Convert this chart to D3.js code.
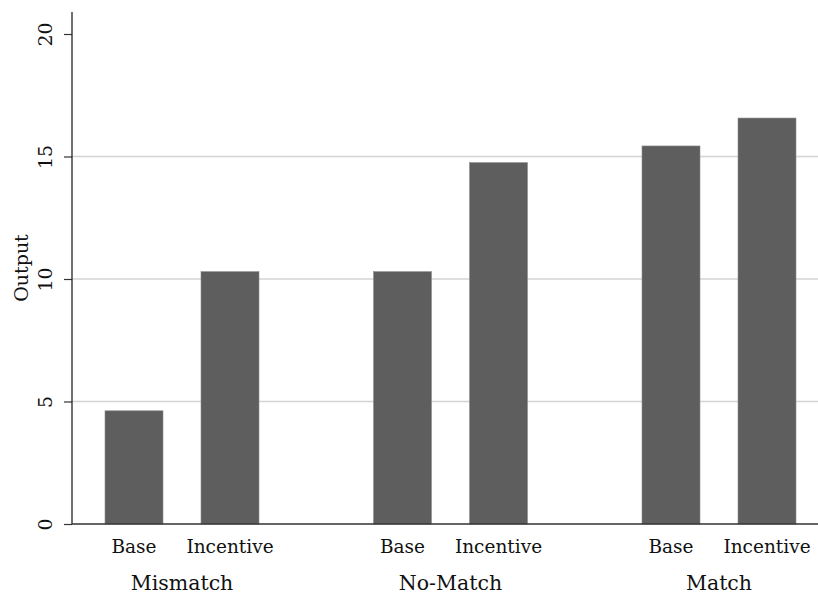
<!DOCTYPE html>
<html><head><meta charset="utf-8">
<script src="https://cdn.jsdelivr.net/npm/d3@7"></script>
<style>body{margin:0;background:#fff}svg{display:block}text{font-family:"DejaVu Serif",serif;fill:#111}</style>
</head><body><svg id="c" width="818" height="597"></svg>
<script>
const groups = ["Mismatch", "No-Match", "Match"];
const conditions = ["Base", "Incentive"];
const baseValues = [4.62, 10.3, 15.43];
const incentiveValues = [10.3, 14.75, 16.57];
const yTicks = [0, 5, 10, 15, 20];
const yLabel = "Output";

const data = [];
groups.forEach((g, i) => {
  data.push({group: g, cond: "Base", value: baseValues[i]});
  data.push({group: g, cond: "Incentive", value: incentiveValues[i]});
});

const svg = d3.select("#c");
const x0 = 72, xEnd = 818, yBase = 524, yTop = 12;
const y = d3.scaleLinear().domain([0, 20]).range([yBase, 34]);
const gx = d3.scalePoint().domain(groups).range([182, 719]);
const bx = d3.scaleBand().domain(conditions).range([-77, 77]).paddingInner(38/96).paddingOuter(0);

// gridlines
svg.append("g").selectAll("line").data(yTicks.filter(t => t > 0 && t < 20)).join("line")
  .attr("x1", x0).attr("x2", xEnd).attr("y1", d => y(d)).attr("y2", d => y(d))
  .attr("stroke", "#d4d4d4").attr("stroke-width", 1.3);

// bars
svg.append("g").selectAll("rect").data(data).join("rect")
  .attr("x", d => gx(d.group) + bx(d.cond))
  .attr("width", bx.bandwidth())
  .attr("y", d => y(d.value))
  .attr("height", d => yBase - y(d.value))
  .attr("fill", "#5e5e5e").attr("stroke", "#8a8a8a").attr("stroke-width", 0.6);

// y axis
const yAxis = d3.axisLeft(y).tickValues(yTicks).tickSize(8).tickPadding(12);
const ya = svg.append("g").attr("transform", `translate(${x0},0)`).call(yAxis);
ya.select(".domain").remove();
ya.selectAll(".tick line").attr("stroke", "#333").attr("stroke-width", 1.2);
ya.selectAll(".tick text").attr("font-size", 19).attr("fill", "#111")
  .attr("text-anchor", "middle").attr("dy", 0)
  .attr("transform", `translate(-27,0) rotate(-90)`)
  .attr("x", 0).attr("y", 0).attr("dominant-baseline", "central");
svg.append("line").attr("x1", x0).attr("x2", x0).attr("y1", yTop).attr("y2", yBase)
  .attr("stroke", "#222").attr("stroke-width", 1.3);

// x axis line
svg.append("line").attr("x1", x0).attr("x2", xEnd).attr("y1", yBase).attr("y2", yBase)
  .attr("stroke", "#333").attr("stroke-width", 1.5);

// category labels
svg.append("g").selectAll("text").data(data).join("text")
  .attr("x", d => gx(d.group) + bx(d.cond) + bx.bandwidth()/2)
  .attr("y", 553).attr("text-anchor", "middle").attr("font-size", 18.5)
  .text(d => d.cond);

// group labels
svg.append("g").selectAll("text").data(groups).join("text")
  .attr("x", d => gx(d)).attr("y", 590).attr("text-anchor", "middle").attr("font-size", 20.5)
  .text(d => d);

// y label
svg.append("text").attr("transform", `translate(28,${(yBase + 12)/2}) rotate(-90)`)
  .attr("text-anchor", "middle").attr("font-size", 19).text(yLabel);
</script></body></html>
